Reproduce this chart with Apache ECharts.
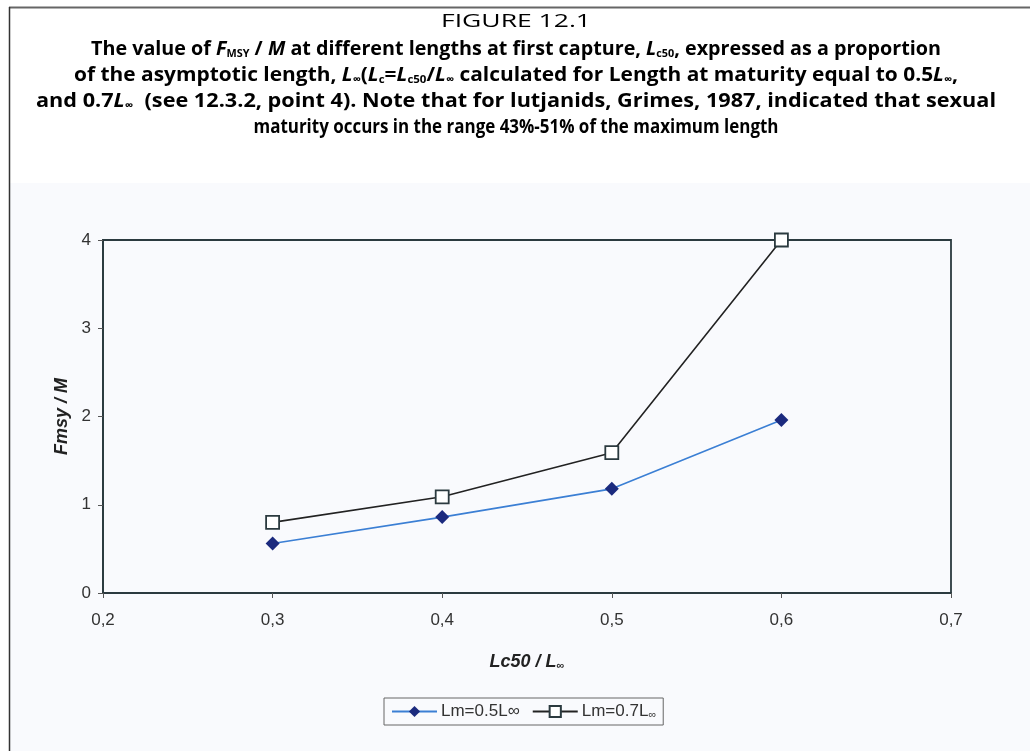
<!DOCTYPE html>
<html>
<head>
<meta charset="utf-8">
<script src="https://cdn.jsdelivr.net/npm/echarts@6/dist/echarts.min.js"></script>
<style>
html,body{margin:0;padding:0;background:#fff;}
#c{width:1030px;height:751px;}
</style>
</head>
<body>
<div id="c"></div>
<script>
// ---- data ----
const xValues = [0.3, 0.4, 0.5, 0.6];
const seriesNames = ['Lm=0.5L∞', 'Lm=0.7L∞'];
const fmsyLm05 = [0.56, 0.86, 1.18, 1.96];
const fmsyLm07 = [0.80, 1.09, 1.59, 4.0];
const xTicks = [0.2, 0.3, 0.4, 0.5, 0.6, 0.7];
const yTicks = [0, 1, 2, 3, 4];

// ---- title text (segments: [style, text]) ----
const titleSegments = [
  [['n', 'FIGURE 12.1']],
  [['b', 'The value of '], ['i', 'F'], ['s', 'MSY'], ['b', ' / '], ['i', 'M'], ['b', ' at different lengths at first capture, '], ['i', 'L'], ['s', 'c50'], ['b', ', expressed as a proportion']],
  [['b', 'of the asymptotic length, '], ['i', 'L'], ['s', '∞'], ['b', '('], ['i', 'L'], ['s', 'c'], ['b', '='], ['i', 'L'], ['s', 'c50'], ['b', '/'], ['i', 'L'], ['s', '∞'], ['b', ' calculated for Length at maturity equal to 0.5'], ['i', 'L'], ['s', '∞'], ['b', ',']],
  [['b', 'and 0.7'], ['i', 'L'], ['s', '∞'], ['b', '  (see 12.3.2, point 4). Note that for lutjanids, Grimes, 1987, indicated that sexual']],
  [['b', 'maturity occurs in the range 43%-51% of the maximum length']]
];

const chart = echarts.init(document.getElementById('c'), null, {renderer: 'canvas'});

const TF = '"Open Sans", "Noto Sans", sans-serif';
const TS = 20;
const SS = 11;
const titleRich = {
  b: {fontFamily: TF, fontWeight: 'bold', fontSize: TS, color: '#1a1a1a'},
  i: {fontFamily: TF, fontWeight: 'bold', fontStyle: 'italic', fontSize: TS, color: '#1a1a1a'},
  s: {fontFamily: TF, fontWeight: 'bold', fontSize: SS, color: '#1a1a1a', verticalAlign: 'bottom'},
  n: {fontFamily: TF, fontWeight: 'normal', fontSize: TS - 1, color: '#1a1a1a'}
};
const fontCss = {
  b: 'bold ' + TS + 'px ' + TF,
  i: 'italic bold ' + TS + 'px ' + TF,
  s: 'bold ' + SS + 'px ' + TF,
  n: 'normal ' + (TS - 1) + 'px ' + TF
};
const titleY = [22, 49, 75, 101, 127];
const titleW = [150, 850, 884, 960, 525];
const mctx = document.createElement('canvas').getContext('2d');

const graphics = [
  {type: 'rect', z: -10, shape: {x: 10, y: 183, width: 1020, height: 568}, style: {fill: '#f9fafd'}, silent: true},
  {type: 'line', shape: {x1: 9, y1: 7.5, x2: 1030, y2: 7.5}, style: {stroke: '#666', lineWidth: 2}, silent: true},
  {type: 'line', shape: {x1: 9.5, y1: 7, x2: 9.5, y2: 751}, style: {stroke: '#333', lineWidth: 1.5}, silent: true}
];
titleSegments.forEach((segs, k) => {
  let w = 0;
  segs.forEach(([st, tx]) => { mctx.font = fontCss[st]; w += mctx.measureText(tx).width; });
  const text = segs.map(([st, tx]) => '{' + st + '|' + tx + '}').join('');
  graphics.push({
    type: 'text', x: 516, y: titleY[k], scaleX: titleW[k] / w, silent: true,
    style: {text: text, rich: titleRich, align: 'center', verticalAlign: 'middle'}
  });
});

const LF = '"Liberation Sans", Arial, sans-serif';
const AX = '#2b3a3f';

chart.setOption({
  animation: false,
  backgroundColor: '#ffffff',
  graphic: graphics,
  grid: {left: 103, right: 79, top: 240, bottom: 158, show: true, borderColor: AX, borderWidth: 1.8, backgroundColor: 'transparent'},
  xAxis: {
    type: 'value', min: xTicks[0], max: xTicks[xTicks.length - 1], interval: 0.1,
    name: '{i|Lc50 / L}{s|∞}', nameLocation: 'middle', nameGap: 60,
    nameTextStyle: {rich: {
      i: {fontFamily: LF, fontWeight: 'bold', fontStyle: 'italic', fontSize: 18, color: '#222'},
      s: {fontFamily: LF, fontWeight: 'bold', fontSize: 11, color: '#222', verticalAlign: 'bottom'}
    }},
    axisLine: {show: true, lineStyle: {color: AX, width: 1.8}},
    axisTick: {show: true, length: 5, lineStyle: {color: '#555'}},
    splitLine: {show: false},
    axisLabel: {fontFamily: LF, fontSize: 17, color: '#333', margin: 19,
      formatter: v => v.toFixed(1).replace('.', ',')}
  },
  yAxis: {
    type: 'value', min: yTicks[0], max: yTicks[yTicks.length - 1], interval: 1,
    name: 'Fmsy / M', nameLocation: 'middle', nameGap: 32, nameRotate: 90,
    nameTextStyle: {fontFamily: LF, fontWeight: 'bold', fontStyle: 'italic', fontSize: 18, color: '#222'},
    axisLine: {show: true, lineStyle: {color: AX, width: 1.8}},
    axisTick: {show: true, length: 5, lineStyle: {color: '#555'}},
    splitLine: {show: false},
    axisLabel: {fontFamily: LF, fontSize: 17, color: '#333', margin: 12}
  },
  legend: {
    left: 384, top: 698, orient: 'horizontal',
    borderColor: '#666', borderWidth: 1, padding: [5, 7, 5, 7], itemGap: 12,
    itemWidth: 45, itemHeight: 14,
    data: seriesNames,
    formatter: name => name === seriesNames[1] ? '{t|Lm=0.7L}{s|∞}' : '{t|Lm=0.5L∞}',
    textStyle: {fontFamily: LF, fontSize: 17, color: '#333', padding: [0, 0, 0, -1], rich: {
      t: {fontFamily: LF, fontSize: 17, color: '#333'},
      s: {fontFamily: LF, fontSize: 11, color: '#333', verticalAlign: 'bottom'}
    }}
  },
  series: [
    {
      name: seriesNames[0], type: 'line',
      data: xValues.map((x, i) => [x, fmsyLm05[i]]),
      symbol: 'diamond', symbolSize: 14, showAllSymbol: true,
      lineStyle: {color: '#3b7fd4', width: 1.6},
      itemStyle: {color: '#1b2a7e', borderWidth: 0}
    },
    {
      name: seriesNames[1], type: 'line',
      data: xValues.map((x, i) => [x, fmsyLm07[i]]),
      symbol: 'rect', symbolSize: 13, showAllSymbol: true,
      lineStyle: {color: '#222', width: 1.6},
      itemStyle: {color: '#ffffff', borderColor: AX, borderWidth: 1.8}
    }
  ]
});
</script>
</body>
</html>
